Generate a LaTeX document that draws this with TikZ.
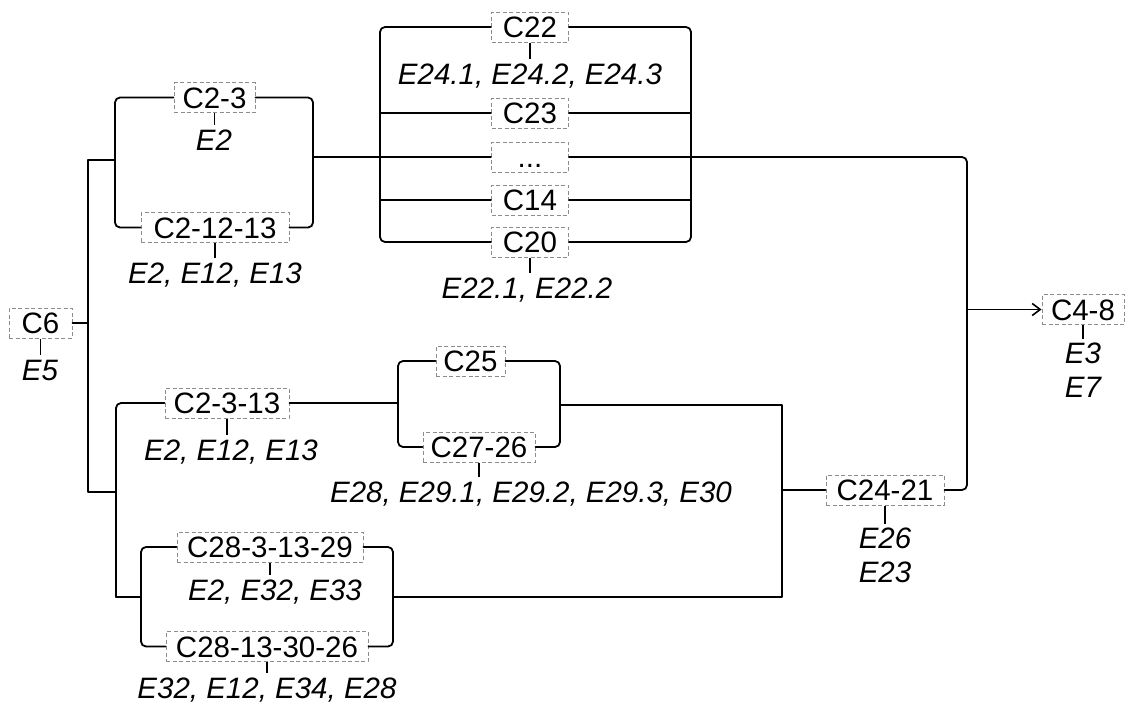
\documentclass[tikz,border=0pt]{standalone}
\usepackage{fontspec}
\setmainfont{Liberation Sans}
\usetikzlibrary{arrows.meta}
\begin{document}
\begin{tikzpicture}[x=1pt,y=-1pt,
  box/.style={draw=black!45, line width=1pt, dash pattern=on 4pt off 2.5pt,
    minimum height=30pt, inner xsep=0pt, inner ysep=0pt,
    text height=21pt, text depth=0pt, font=\fontsize{29.5}{34}\selectfont},
  lab/.style={inner xsep=0pt, inner ysep=4pt, text height=21pt, text depth=0pt,
    font=\fontsize{29.5}{34}\selectfont\itshape},
  labtwo/.style={inner xsep=0pt, inner ysep=4pt, align=center, anchor=north,
    font=\fontsize{29.5}{34}\selectfont\itshape},
  wire/.style={line width=1.8pt, line cap=round, line join=round},
  rc/.style={rounded corners=5pt},
  tick/.style={line width=1.4pt},
  arr/.style={-{Straight Barb[length=8pt,width=12pt,line width=1.6pt]}}]
\path[use as bounding box] (0,0) rectangle (1125,705);

% nodes
\node[box, minimum width=63pt] (c6) at (40.5,323) {C6};
\node[lab] (e5) at (40,370) {E5};

\node[box, minimum width=81pt] (a1) at (214.5,97.5) {C2-3};
\node[lab] (a1e) at (214,140) {E2};
\node[box, minimum width=148pt] (a2) at (215,227.5) {C2-12-13};
\node[lab] (a2e) at (215,273) {E2, E12, E13};

\node[box, minimum width=77pt] (b1) at (530,27) {C22};
\node[lab] (b1e) at (530,74) {E24.1, E24.2, E24.3};
\node[box, minimum width=77pt] (b2) at (530,113) {C23};
\node[box, minimum width=77pt] (b3) at (530,157) {...};
\node[box, minimum width=77pt] (b4) at (530,200) {C14};
\node[box, minimum width=77pt] (b5) at (530,242) {C20};
\node[lab] (b5e) at (527,288) {E22.1, E22.2};

\node[box, minimum width=124pt] (d1) at (227,403) {C2-3-13};
\node[lab] (d1e) at (231,450) {E2, E12, E13};
\node[box, minimum width=69pt] (d2) at (470.5,361) {C25};
\node[box, minimum width=112pt] (d3) at (479,447) {C27-26};
\node[lab] (d3e) at (531,492) {E28, E29.1, E29.2, E29.3, E30};

\node[box, minimum width=186pt] (f1) at (270,547) {C28-3-13-29};
\node[lab] (f1e) at (275,590) {E2, E32, E33};
\node[box, minimum width=202pt] (f2) at (267,646.5) {C28-13-30-26};
\node[lab] (f2e) at (267,688) {E32, E12, E34, E28};

\node[box, minimum width=118pt] (g) at (885,490) {C24-21};
\node[labtwo] (ge) at (885,524) {E26\\E23};

\node[box, minimum width=82pt] (h) at (1083,309.5) {C4-8};
\node[labtwo] (he) at (1083,338.5) {E3\\E7};

% junction coordinates
\coordinate (sT) at (88,160);
\coordinate (sB) at (88,492);
\coordinate (sC) at (88,323);
\coordinate (aL) at (115,160);
\coordinate (aR) at (313,157);
\coordinate (bL) at (380,157);
\coordinate (bR) at (691,157);
\coordinate (rM) at (967,309.5);
\coordinate (dJ) at (116,492);
\coordinate (fJ) at (116,597);
\coordinate (fL) at (141,597);
\coordinate (fR) at (393,597);
\coordinate (dL) at (398,403);
\coordinate (dR) at (560,405);
\coordinate (jT) at (782,405);
\coordinate (jM) at (782,490);
\coordinate (jB) at (782,597);

% ticks
\foreach \n/\m in {c6/e5,a1/a1e,a2/a2e,b1/b1e,b5/b5e,d1/d1e,d3/d3e,f1/f1e,f2/f2e,g/ge,h/he}
  \draw[tick] (\n.south) -- (\n.south |- \m.north);

% wires
\draw[wire] (c6.east) -- (sC);
\draw[wire] (aL) -- (sT) -- (sB) -- (dJ);
\draw[wire,rc] (a1.west) -| (aL) |- (a2.west);
\draw[wire,rc] (a1.east) -| (aR) |- (a2.east);
\draw[wire] (aR) -- (b3.west);
\draw[wire,rc] (b3.east) -| (rM) |- (g.east);
\draw[wire,arr] (rM) -- (h.west);
\draw[wire,rc] (b1.west) -| (bL) |- (b5.west);
\draw[wire,rc] (b1.east) -| (bR) |- (b5.east);
\draw[wire] (b2.west -| bL) -- (b2.west);
\draw[wire] (b2.east) -- (b2.east -| bR);
\draw[wire] (b4.west -| bL) -- (b4.west);
\draw[wire] (b4.east) -- (b4.east -| bR);
\draw[wire,rc] (d1.west) -| (fJ);
\draw[wire] (fJ) -- (fL);
\draw[wire,rc] (f1.west) -| (fL) |- (f2.west);
\draw[wire,rc] (f1.east) -| (fR) |- (f2.east);
\draw[wire] (fR) -- (jB) -- (jT) -- (dR);
\draw[wire] (jM) -- (g.west);
\draw[wire] (d1.east) -- (dL);
\draw[wire,rc] (d2.west) -| (dL) |- (d3.west);
\draw[wire,rc] (d2.east) -| (dR) |- (d3.east);
\end{tikzpicture}
\end{document}
